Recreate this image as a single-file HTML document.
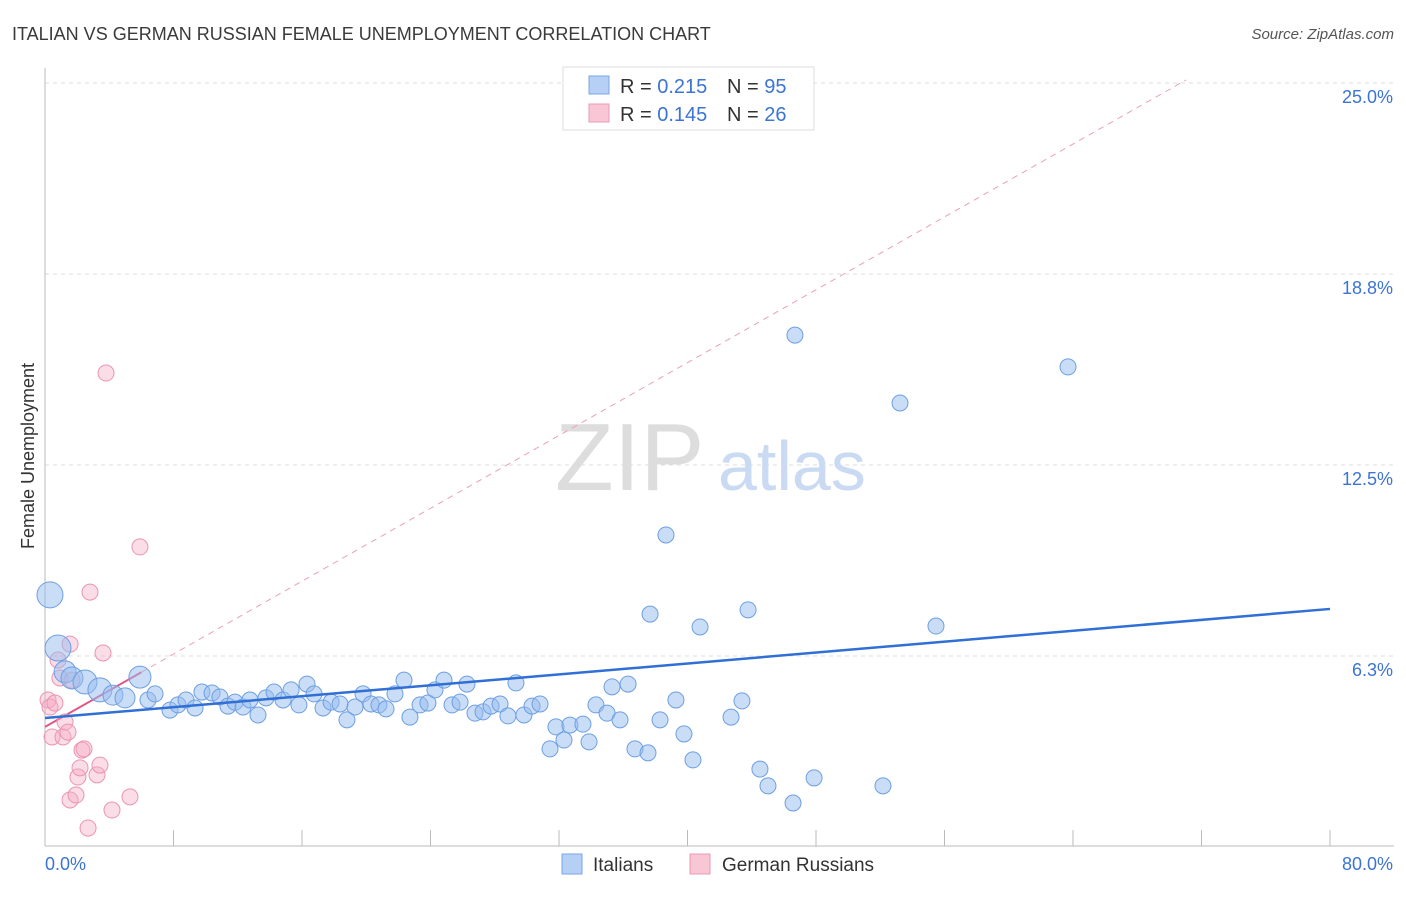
<!DOCTYPE html>
<html><head><meta charset="utf-8">
<style>
body{margin:0;background:#fff;font-family:"Liberation Sans",sans-serif;}
#wrap{position:relative;width:1406px;height:892px;}
svg text{font-family:"Liberation Sans",sans-serif;}
</style></head>
<body>
<div id="wrap">
<svg id="chart" width="1406" height="892">
<text x="12" y="40" font-size="18" fill="#3a3a3a">ITALIAN VS GERMAN RUSSIAN FEMALE UNEMPLOYMENT CORRELATION CHART</text>
<text x="1394" y="39" font-size="15" fill="#555" font-style="italic" text-anchor="end">Source: ZipAtlas.com</text>
<text transform="translate(34,456) rotate(-90)" font-size="18" fill="#333" text-anchor="middle">Female Unemployment</text>
<g id="grid"></g>
<g><text x="555" y="490" font-size="96" font-family="Liberation Serif" fill="#ddd">ZIP</text><text x="718" y="490" font-size="70" fill="#c9daf2">atlas</text></g>
<g id="lines"></g>
<g id="pts"></g>
<g>
<rect x="563" y="67" width="251" height="63" fill="#fff" stroke="#ddd"/>
<rect x="589" y="76" width="20" height="18" fill="#b5cff5" stroke="#7aa6e6"/>
<text x="620" y="93" font-size="20" fill="#333">R = <tspan fill="#3b74d4">0.215</tspan></text>
<text x="727" y="93" font-size="20" fill="#333">N = <tspan fill="#3b74d4">95</tspan></text>
<rect x="589" y="104" width="20" height="18" fill="#f9c6d6" stroke="#eb9ab4"/>
<text x="620" y="121" font-size="20" fill="#333">R = <tspan fill="#3b74d4">0.145</tspan></text>
<text x="727" y="121" font-size="20" fill="#333">N = <tspan fill="#3b74d4">26</tspan></text>
</g>
<g>
<rect x="562" y="854" width="20" height="20" fill="#b5cff5" stroke="#7aa6e6"/>
<text x="593" y="871" font-size="19" fill="#333">Italians</text>
<rect x="690" y="854" width="20" height="20" fill="#f9c6d6" stroke="#eb9ab4"/>
<text x="722" y="871" font-size="19" fill="#333">German Russians</text>
</g>
</svg>
</div>
<script>
const yTicks=[25,18.75,12.5,6.25];
const yTickLabels=["25.0%","18.8%","12.5%","6.3%"];
const xTicks=[0,8,16,24,32,40,48,56,64,72,80];
const italiansPx=[[50,595,13],[58,648,13],[65,672,11],[72,678,11],[85,682,12],[100,690,12],[113,695,10],[125,698,10],[140,677,11],[148,700],[155,694],[170,710],[178,705],[186,700],[195,708],[202,692],[212,693],[220,697],[228,706],[235,702],[243,707],[250,700],[258,715],[266,698],[274,692],[283,700],[291,690],[299,705],[307,684],[314,694],[323,708],[331,702],[340,704],[347,720],[355,707],[363,694],[371,704],[379,705],[386,709],[395,694],[404,680],[410,717],[420,705],[428,703],[435,690],[444,680],[452,705],[460,702],[467,684],[475,713],[483,712],[491,706],[500,704],[508,716],[516,683],[524,715],[532,706],[540,704],[550,749],[556,727],[564,740],[570,725],[583,724],[589,742],[596,705],[607,713],[612,687],[620,720],[628,684],[635,749],[648,753],[650,614],[660,720],[666,535],[676,700],[684,734],[693,760],[700,627],[716,88],[731,717],[742,701],[748,610],[760,769],[768,786],[793,803],[795,335],[814,778],[883,786],[900,403],[936,626],[1068,367]];
const germanPx=[[48,700],[50,707],[52,737],[55,703],[58,660],[60,678],[63,737],[65,722],[68,732],[70,644],[72,680],[78,777],[80,768],[82,750],[84,749],[70,800],[76,795],[88,828],[97,775],[100,765],[103,653],[106,373],[112,810],[130,797],[140,547],[90,592]];
const italianX=italiansPx.map(p=>+((p[0]-45)*80/1285).toFixed(2));
const italianY=italiansPx.map(p=>+((847-p[1])/30.56).toFixed(2));
const italianR=italiansPx.map(p=>p[2]||8);
const germanX=germanPx.map(p=>+((p[0]-45)*80/1285).toFixed(2));
const germanY=germanPx.map(p=>+((847-p[1])/30.56).toFixed(2));
const blueTrend=[4.22,7.79];
const pinkTrend=[3.93,0.298];

const X=v=>45+v*1285/80, Y=v=>847-v*30.56;
const NS="http://www.w3.org/2000/svg";
function mk(tag,attrs,parent){const e=document.createElementNS(NS,tag);for(const k in attrs)e.setAttribute(k,attrs[k]);parent.appendChild(e);return e;}
const grid=document.getElementById('grid');
yTicks.forEach((t,i)=>{
 const l=mk('line',{x1:45,x2:1394,y1:Y(t),y2:Y(t),stroke:'#ddd','stroke-dasharray':'4,4'},grid);
 
 
 const tx=mk('text',{x:1393,y:Y(t)+20,'font-size':18,fill:'#3b74d4','text-anchor':'end'},grid);
 tx.textContent=yTickLabels[i];
 
 
});
const ax=mk('line',{x1:45,x2:45,y1:68,y2:846,stroke:'#bbb'},grid);


const bx=mk('line',{x1:45,x2:1394,y1:846,y2:846,stroke:'#bbb'},grid);


xTicks.forEach(t=>{
 const l=mk('line',{x1:X(t),x2:X(t),y1:830,y2:846,stroke:'#bbb'},grid);
 
 
});
[["0.0%",45,'start'],["80.0%",1393,'end']].forEach(a=>{
 const t=mk('text',{x:a[1],y:870,'font-size':18,fill:'#3b74d4','text-anchor':a[2]},grid);t.textContent=a[0];
 
 
});
const pts=document.getElementById('pts');
germanX.forEach((x,i)=>{
 const c=mk('circle',{cx:X(x),cy:Y(germanY[i]),r:8,fill:'rgba(246,170,196,0.4)',stroke:'#eb94b2','stroke-width':1},pts);
 
 
});
italianX.forEach((x,i)=>{
 const c=mk('circle',{cx:X(x),cy:Y(italianY[i]),r:italianR[i],fill:'rgba(150,188,238,0.5)',stroke:'#6d9fe2','stroke-width':1},pts);
 
 
});
const lines=document.getElementById('lines');
const pe=(pinkTrend[0]+pinkTrend[1]*80>25)?(25.1-pinkTrend[0])/pinkTrend[1]:80;
const d=mk('line',{x1:X(6),y1:Y(pinkTrend[0]+pinkTrend[1]*6),x2:X(pe),y2:Y(pinkTrend[0]+pinkTrend[1]*pe),stroke:'#eaa0b8','stroke-dasharray':'6,5','stroke-width':1},lines);


const p=mk('line',{x1:X(0),y1:Y(pinkTrend[0]),x2:X(6),y2:Y(pinkTrend[0]+pinkTrend[1]*6),stroke:'#e0578a','stroke-width':2},lines);


const b=mk('line',{x1:X(0),y1:Y(blueTrend[0]),x2:X(80),y2:Y(blueTrend[1]),stroke:'#2f6fd6','stroke-width':2.5},pts);


</script>
</body></html>
